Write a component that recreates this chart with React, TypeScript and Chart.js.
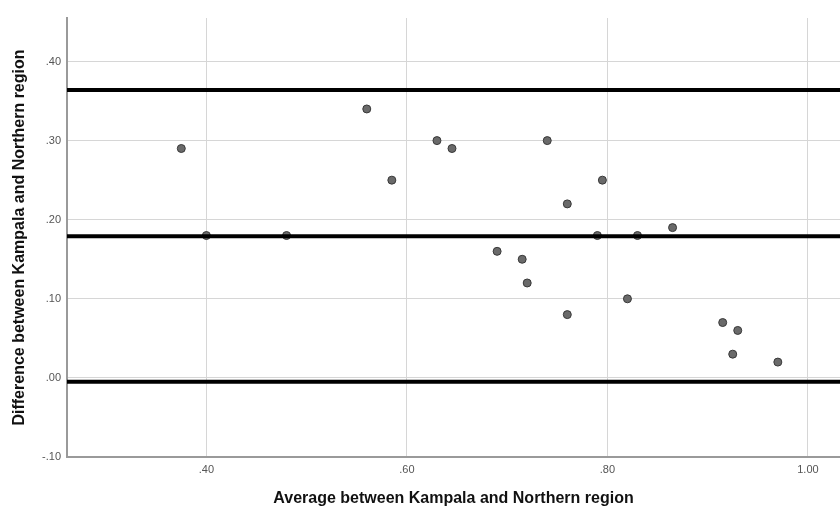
import React, { useEffect, useRef } from "react";
import { Chart, registerables } from "chart.js";

Chart.register(...registerables);

// Bland–Altman style agreement plot: Kampala vs Northern region
const AVERAGE = [
  0.375, 0.4, 0.48, 0.56, 0.585, 0.63, 0.645, 0.74, 0.795, 0.76, 0.79,
  0.83, 0.865, 0.69, 0.715, 0.72, 0.82, 0.76, 0.915, 0.93, 0.925, 0.97,
];
const DIFFERENCE = [
  0.29, 0.18, 0.18, 0.34, 0.25, 0.3, 0.29, 0.3, 0.25, 0.22, 0.18,
  0.18, 0.19, 0.16, 0.15, 0.12, 0.1, 0.08, 0.07, 0.06, 0.03, 0.02,
];

// Mean difference and limits of agreement
const MEAN_DIFF = 0.179;
const UPPER_LIMIT = 0.364;
const LOWER_LIMIT = -0.005;

const X_MIN = 0.261;
const X_MAX = 1.032;
const Y_MIN = -0.1;
const Y_MAX = 0.455;

const X_TICKS = [0.4, 0.6, 0.8, 1.0];
const Y_TICKS = [-0.1, 0.0, 0.1, 0.2, 0.3, 0.4];

const X_TITLE = "Average between Kampala and Northern region";
const Y_TITLE = "Difference between Kampala and Northern region";

const FONT = "'Liberation Sans', Arial, sans-serif";

const fmt = (v: number) => v.toFixed(2).replace(/^(-?)0\./, "$1.");

const hLine = (y: number) => ({
  type: "line" as const,
  data: [
    { x: X_MIN, y },
    { x: X_MAX, y },
  ],
  borderColor: "#000000",
  borderWidth: 4,
  pointRadius: 0,
  showLine: true,
  fill: false,
  order: 1,
});

export default function App() {
  const canvasRef = useRef<HTMLCanvasElement | null>(null);

  useEffect(() => {
    if (!canvasRef.current) return;
    const chart = new Chart(canvasRef.current, {
      type: "scatter",
      data: {
        datasets: [
          {
            type: "scatter",
            data: AVERAGE.map((x, i) => ({ x, y: DIFFERENCE[i] })),
            backgroundColor: "#6a6a6a",
            borderColor: "#383838",
            borderWidth: 1,
            pointRadius: 4,
            order: 2,
          },
          hLine(UPPER_LIMIT),
          hLine(MEAN_DIFF),
          hLine(LOWER_LIMIT),
        ],
      },
      options: {
        animation: false,
        responsive: false,
        layout: {
          autoPadding: false,
          padding: { top: 18, right: 0, left: 0, bottom: 0 },
        },
        plugins: {
          legend: { display: false },
          tooltip: { enabled: false },
        },
        scales: {
          x: {
            type: "linear",
            min: X_MIN,
            max: X_MAX,
            afterBuildTicks: (scale: any) => {
              scale.ticks = X_TICKS.map((value) => ({ value }));
            },
            afterFit: (scale: any) => {
              scale.height = 50;
            },
            grid: { color: "#d6d6d6", lineWidth: 1, drawTicks: false },
            border: { display: true, color: "#9a9a9a", width: 2 },
            ticks: {
              padding: 6,
              color: "#555555",
              font: { family: FONT, size: 11 },
              callback: (v: any) => fmt(Number(v)),
              maxRotation: 0,
            },
            title: {
              display: true,
              text: X_TITLE,
              color: "#111111",
              font: { family: FONT, size: 16, weight: "bold", lineHeight: 1 },
              padding: { top: 0, bottom: 0 },
            },
          },
          y: {
            type: "linear",
            min: Y_MIN,
            max: Y_MAX,
            afterBuildTicks: (scale: any) => {
              scale.ticks = Y_TICKS.map((value) => ({ value }));
            },
            afterFit: (scale: any) => {
              scale.width = 67;
            },
            grid: { color: "#d6d6d6", lineWidth: 1, drawTicks: false },
            border: { display: true, color: "#9a9a9a", width: 2 },
            ticks: {
              padding: 6,
              color: "#555555",
              font: { family: FONT, size: 11 },
              callback: (v: any) => fmt(Number(v)),
            },
            title: {
              display: true,
              text: Y_TITLE,
              color: "#111111",
              font: { family: FONT, size: 16, weight: "bold", lineHeight: 1 },
              padding: { top: 12, bottom: 0 },
            },
          },
        },
      },
    });
    return () => chart.destroy();
  }, []);

  return (
    <div
      style={{
        position: "fixed",
        left: 0,
        top: 0,
        width: 840,
        height: 507,
        background: "#ffffff",
      }}
    >
      <canvas
        ref={canvasRef}
        width={840}
        height={507}
        style={{ display: "block", width: 840, height: 507 }}
      />
    </div>
  );
}
